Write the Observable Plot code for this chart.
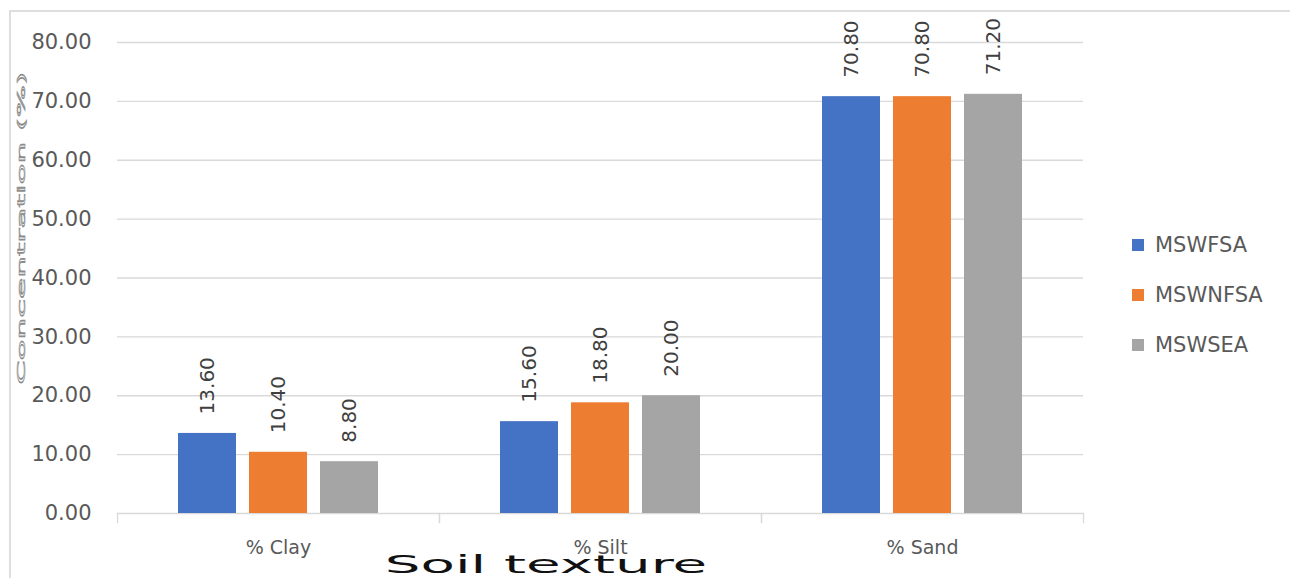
<!DOCTYPE html>
<html><head><meta charset="utf-8">
<script src="https://cdn.jsdelivr.net/npm/d3@7"></script>
<script src="https://cdn.jsdelivr.net/npm/@observablehq/plot@0.6"></script>
<style>
html,body{margin:0;padding:0;background:#fff;}
#wrap{position:relative;width:1290px;height:578px;overflow:hidden;font-family:"DejaVu Sans",sans-serif;}
#wrap svg{position:absolute;left:0;top:0;}
.bt{position:absolute;left:9px;top:10px;right:0;height:2px;background:#dedede;}
.bl{position:absolute;left:9px;top:10px;bottom:0;width:2px;background:#dedede;}
#legend{position:absolute;left:1132px;top:220px;}
#legend .row{display:flex;align-items:center;height:50px;font-size:21px;color:#595959;}
#legend .sw{width:12px;height:12px;margin-right:11px;}
</style></head><body><div id="wrap"></div>
<script>
const categories = ["% Clay", "% Silt", "% Sand"];
const seriesNames = ["MSWFSA", "MSWNFSA", "MSWSEA"];
const seriesColors = ["#4472C4", "#ED7D31", "#A5A5A5"];
const clayValues = [13.6, 10.4, 8.8];
const siltValues = [15.6, 18.8, 20.0];
const sandValues = [70.8, 70.8, 71.2];
const yTicks = [0, 10, 20, 30, 40, 50, 60, 70, 80];
const yTitle = "Concentration (%)";
const xTitle = "Soil texture";

const valuesByCat = [clayValues, siltValues, sandValues];
const data = [];
categories.forEach((c, i) => seriesNames.forEach((s, j) => data.push({cat: c, series: s, value: valuesByCat[i][j]})));

const W = 1290, H = 578, mT = 42, mB = 65, mL = 117, mR = 207;

const chart = Plot.plot({
  width: W, height: H,
  marginTop: mT, marginBottom: mB, marginLeft: mL, marginRight: mR,
  style: {fontFamily: "DejaVu Sans", fontSize: "21px", color: "#595959", background: "transparent"},
  fx: {domain: categories, padding: 0, axis: "bottom", tickSize: 0, tickPadding: 27, label: null},
  x: {domain: seriesNames, paddingInner: 0.183, paddingOuter: 0.859, axis: null},
  y: {domain: [0, 80], ticks: yTicks, tickFormat: d => d.toFixed(2), tickSize: 0, tickPadding: 26, label: null},
  color: {domain: seriesNames, range: seriesColors},
  marks: [
    Plot.ruleY(yTicks, {stroke: "#d9d9d9", strokeWidth: 1.3}),
    Plot.frame({anchor: "left", stroke: "#d9d9d9", strokeWidth: 1.3, insetTop: H - mT - mB, insetBottom: -9}),
    Plot.frame({anchor: "right", stroke: "#d9d9d9", strokeWidth: 1.3, insetTop: H - mT - mB, insetBottom: -9}),
    Plot.barY(data, {fx: "cat", x: "series", y: "value", fill: "series"}),
    Plot.text(data, {fx: "cat", x: "series", y: "value", text: d => d.value.toFixed(2), rotate: -90, textAnchor: "start", dy: -19, fill: "#404040", fontSize: 20})
  ]
});

const wrap = document.getElementById("wrap");
wrap.appendChild(chart);
const svg = d3.select(chart);
svg.selectAll('[aria-label^="fx-axis"] text').attr("font-size", 19);

// x-axis title (stretched)
svg.append("text")
  .attr("transform", `translate(546,573) scale(2.25,1)`)
  .attr("text-anchor", "middle")
  .attr("font-family", "DejaVu Sans")
  .attr("font-size", 25)
  .attr("fill", "#111")
  .text(xTitle);

// y-axis title (hollow, stretched)
svg.append("text")
  .attr("transform", `translate(21,228) rotate(-90) scale(3.12,1)`)
  .attr("text-anchor", "middle")
  .attr("dy", "0.35em")
  .attr("font-family", "DejaVu Sans")
  .attr("font-size", 11)
  .attr("fill", "#fff")
  .attr("stroke", "#8c8c8c")
  .attr("stroke-width", 0.6)
  .text(yTitle);

// border
const bt = document.createElement("div"); bt.className = "bt"; wrap.appendChild(bt);
const bl = document.createElement("div"); bl.className = "bl"; wrap.appendChild(bl);

// legend
const leg = document.createElement("div"); leg.id = "legend";
seriesNames.forEach((s, i) => {
  const row = document.createElement("div"); row.className = "row";
  const sw = document.createElement("span"); sw.className = "sw"; sw.style.background = seriesColors[i];
  const t = document.createElement("span"); t.textContent = s;
  row.appendChild(sw); row.appendChild(t); leg.appendChild(row);
});
wrap.appendChild(leg);
</script>
</body></html>
